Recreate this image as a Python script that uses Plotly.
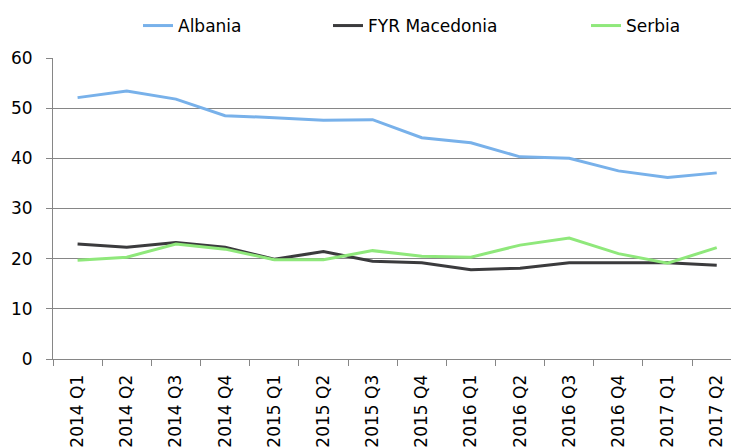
import plotly.graph_objects as go

quarters = ["2014 Q1", "2014 Q2", "2014 Q3", "2014 Q4",
            "2015 Q1", "2015 Q2", "2015 Q3", "2015 Q4",
            "2016 Q1", "2016 Q2", "2016 Q3", "2016 Q4",
            "2017 Q1", "2017 Q2"]
albania = [52.1, 53.4, 51.8, 48.5, 48.1, 47.6, 47.7, 44.1, 43.1, 40.3, 40.0, 37.5, 36.2, 37.1]
macedonia = [22.9, 22.3, 23.2, 22.3, 19.9, 21.4, 19.5, 19.2, 17.8, 18.1, 19.2, 19.2, 19.2, 18.7]
serbia = [19.7, 20.3, 22.9, 21.9, 19.8, 19.8, 21.6, 20.5, 20.3, 22.7, 24.1, 21.0, 19.1, 22.2]
y_ticks = [0, 10, 20, 30, 40, 50, 60]

series = [("Albania", albania, "#78b1ea", "legend"),
          ("FYR Macedonia", macedonia, "#3b3b3d", "legend2"),
          ("Serbia", serbia, "#8fe87b", "legend3")]

fig = go.Figure()
for name, vals, col, lg in series:
    fig.add_trace(go.Scatter(x=quarters, y=vals, name=name, mode="lines",
                             line=dict(color=col, width=3), legend=lg))

leg_font = dict(size=17, family="DejaVu Sans", color="black")
def leg(xpx):
    return dict(x=xpx / 731, xref="container", xanchor="left",
                y=1 - 26 / 448, yref="container", yanchor="middle",
                font=leg_font, bgcolor="rgba(0,0,0,0)", borderwidth=0)

fig.update_layout(
    width=731, height=448,
    margin=dict(l=53, r=0, t=58, b=89, autoexpand=False),
    plot_bgcolor="white", paper_bgcolor="white",
    font=dict(family="DejaVu Sans", color="black"),
    showlegend=True,
    legend=leg(138), legend2=leg(328), legend3=leg(586),
    xaxis=dict(type="category", range=[-0.5, 13.29], showgrid=False,
               showline=True, linecolor="#868686", linewidth=1,
               ticks="outside", ticklen=6, tickcolor="#868686", tickson="boundaries",
               tickangle=-90, ticklabelstandoff=8,
               tickfont=dict(family="DejaVu Sans", size=17)),
    yaxis=dict(range=[0, 60], tickvals=y_ticks, showgrid=True, gridcolor="#868686",
               gridwidth=1, showline=True, linecolor="#868686", linewidth=1,
               ticks="outside", ticklen=6, tickcolor="#868686", ticklabelstandoff=10,
               tickfont=dict(family="DejaVu Sans", size=17), zeroline=False),
)
fig.write_html("out.html", config={"displayModeBar": False},
               post_script="document.body.style.margin='0';")
